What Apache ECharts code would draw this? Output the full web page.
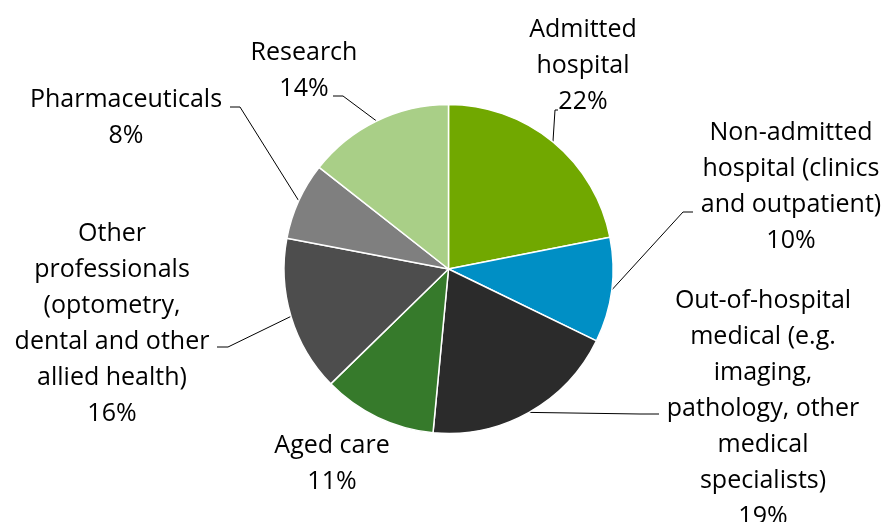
<!DOCTYPE html>
<html>
<head>
<meta charset="utf-8">
<script src="https://cdn.jsdelivr.net/npm/echarts@6/dist/echarts.min.js"></script>
<style>
html,body{margin:0;padding:0;background:#fff;}
#c{width:886px;height:522px;}
</style>
</head>
<body>
<div id="c"></div>
<script>
const categories = [
  'Admitted\nhospital',
  'Non-admitted\nhospital (clinics\nand outpatient)',
  'Out-of-hospital\nmedical (e.g.\nimaging,\npathology, other\nmedical\nspecialists)',
  'Aged care',
  'Other\nprofessionals\n(optometry,\ndental and other\nallied health)',
  'Pharmaceuticals',
  'Research'
];
// slice shares
const values = [21.9, 10.3, 19.3, 11.2, 15.3, 7.6, 14.4];
// percentages printed in the labels
const pctLabels = [22, 10, 19, 11, 16, 8, 14];
const colors = ['#71A800', '#008FC5', '#2B2B2B', '#367A2B', '#4D4D4D', '#7F7F7F', '#A9CF87'];

// label placement (style): top-center anchor of each text block, and leader line bend/end points
const labelAnchors = [
  [583, 12], [791, 115], [763, 283], [332, 428], [112, 216], [126, 82], [304, 35]
];
const leaderBends = [
  [[555, 110], [558, 110]],
  [[683, 212], [693, 212]],
  [[640, 414], [659, 414]],
  null,
  [[228, 347], [217, 347]],
  [[240, 107], [230, 107]],
  [[343, 96], [333, 96]]
];

const CX = 448.5, CY = 269, R = 164.5;
const total = values.reduce((a, b) => a + b, 0);
function edgePoint(i) {
  let before = 0;
  for (let k = 0; k < i; k++) before += values[k];
  const mid = (before + values[i] / 2) / total * Math.PI * 2;
  return [CX + R * Math.sin(mid), CY - R * Math.cos(mid)];
}

const chart = echarts.init(document.getElementById('c'), null, {renderer: 'canvas'});
chart.setOption({
  backgroundColor: '#fff',
  animation: false,
  series: [{
    type: 'pie',
    center: [CX, CY],
    radius: R,
    startAngle: 90,
    clockwise: true,
    avoidLabelOverlap: false,
    itemStyle: {borderColor: '#fff', borderWidth: 1.5},
    label: {
      show: true,
      position: 'outside',
      color: '#000',
      fontFamily: 'Open Sans',
      fontSize: 25,
      lineHeight: 36,
      align: 'center',
      formatter: p => p.name + '\n' + pctLabels[p.dataIndex] + '%'
    },
    labelLine: {show: true, lineStyle: {color: '#000', width: 1}},
    labelLayout: function (params) {
      const i = params.dataIndex;
      const a = labelAnchors[i];
      const res = {x: a[0], y: a[1], align: 'center', verticalAlign: 'top'};
      if (leaderBends[i]) {
        const start = edgePoint(i);
        res.labelLinePoints = [start, leaderBends[i][0], leaderBends[i][1]];
      }
      return res;
    },
    data: categories.map((c, i) => ({
      name: c,
      value: values[i],
      itemStyle: {color: colors[i]},
      labelLine: {show: leaderBends[i] !== null}
    }))
  }]
});
</script>
</body>
</html>
